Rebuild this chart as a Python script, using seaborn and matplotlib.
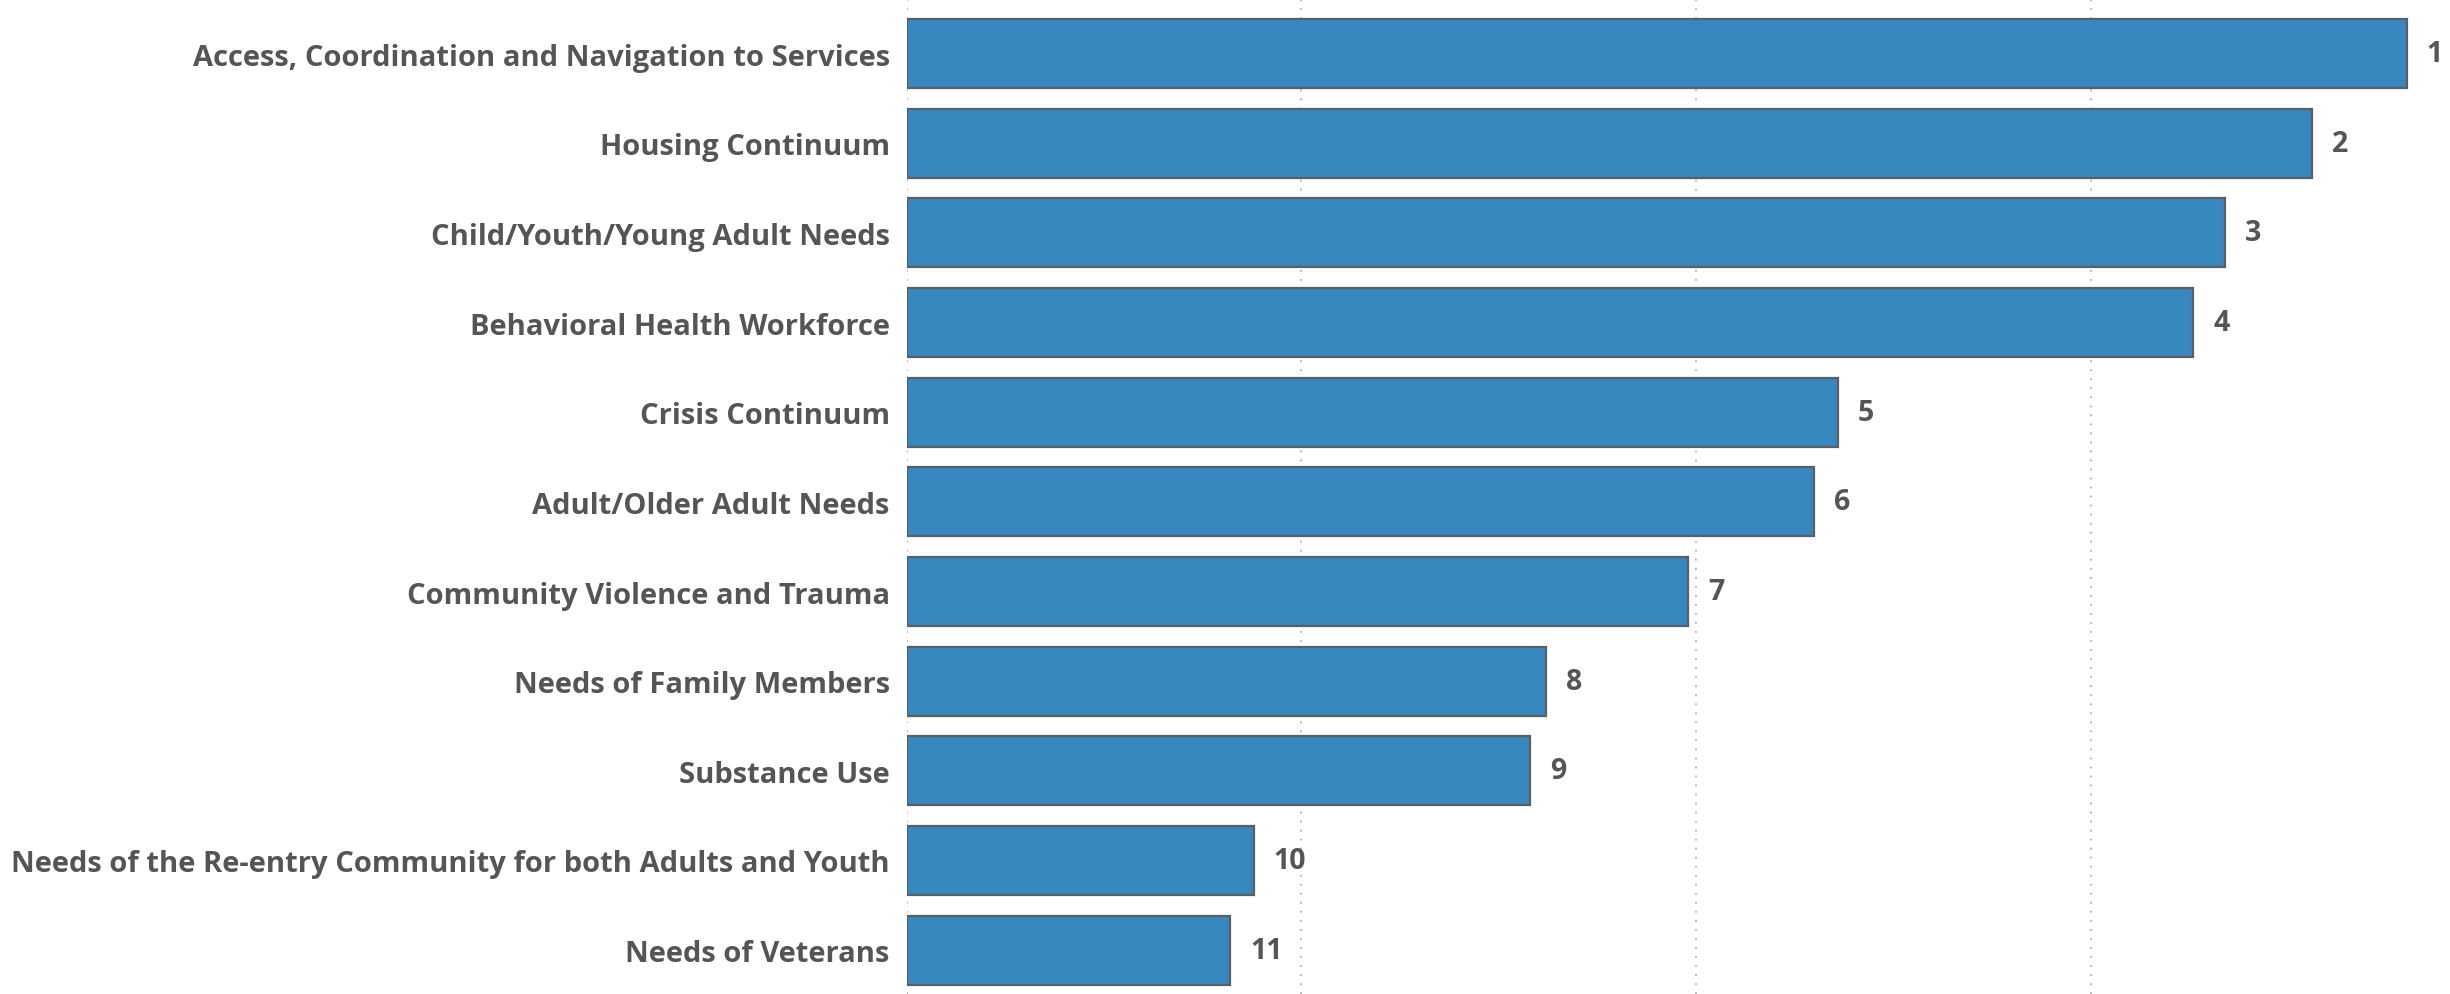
import pandas as pd
import seaborn as sns
import matplotlib.pyplot as plt

categories = [
    "Access, Coordination and Navigation to Services",
    "Housing Continuum",
    "Child/Youth/Young Adult Needs",
    "Behavioral Health Workforce",
    "Crisis Continuum",
    "Adult/Older Adult Needs",
    "Community Violence and Trauma",
    "Needs of Family Members",
    "Substance Use",
    "Needs of the Re-entry Community for both Adults and Youth",
    "Needs of Veterans",
]
scores = [3.80, 3.56, 3.34, 3.26, 2.36, 2.30, 1.98, 1.62, 1.58, 0.88, 0.82]
ranks = [1, 2, 3, 4, 5, 6, 7, 8, 9, 10, 11]

df = pd.DataFrame({"Priority": categories, "Score": scores, "Rank": ranks})

sns.set_style("white")
plt.rcParams['font.family'] = ['Open Sans', 'DejaVu Sans']

fig = plt.figure(figsize=(24.5, 9.95), dpi=100)
ax = fig.add_axes([0.37, 0.0, 0.63, 1.0])

sns.barplot(data=df, y="Priority", x="Score", orient="h", color="#3888C0",
            saturation=1, width=0.77, edgecolor="#5A5F66", linewidth=1.6, ax=ax, zorder=3)

for i, (s, r) in enumerate(zip(scores, ranks)):
    ax.text(s + 0.05, i, str(r), va="center", ha="left", fontsize=20.5,
            fontweight="bold", color="#555555", clip_on=False)

ax.set_xlim(0, 3.91)
ax.set_ylim(10.49, -0.61)
ax.set_xticks([0, 1, 2, 3])
ax.xaxis.grid(True, linestyle=(0, (1, 4)), color="#B0B0B0", linewidth=1.3)
ax.set_axisbelow(True)
ax.tick_params(axis="x", labelbottom=False, length=0)
ax.tick_params(axis="y", length=0, pad=12)
for lbl in ax.get_yticklabels():
    lbl.set_fontsize(21)
    lbl.set_fontweight("bold")
    lbl.set_color("#555555")
ax.set_xlabel("")
ax.set_ylabel("")
sns.despine(ax=ax, left=True, bottom=True)

fig.savefig("out.png", dpi=100)
